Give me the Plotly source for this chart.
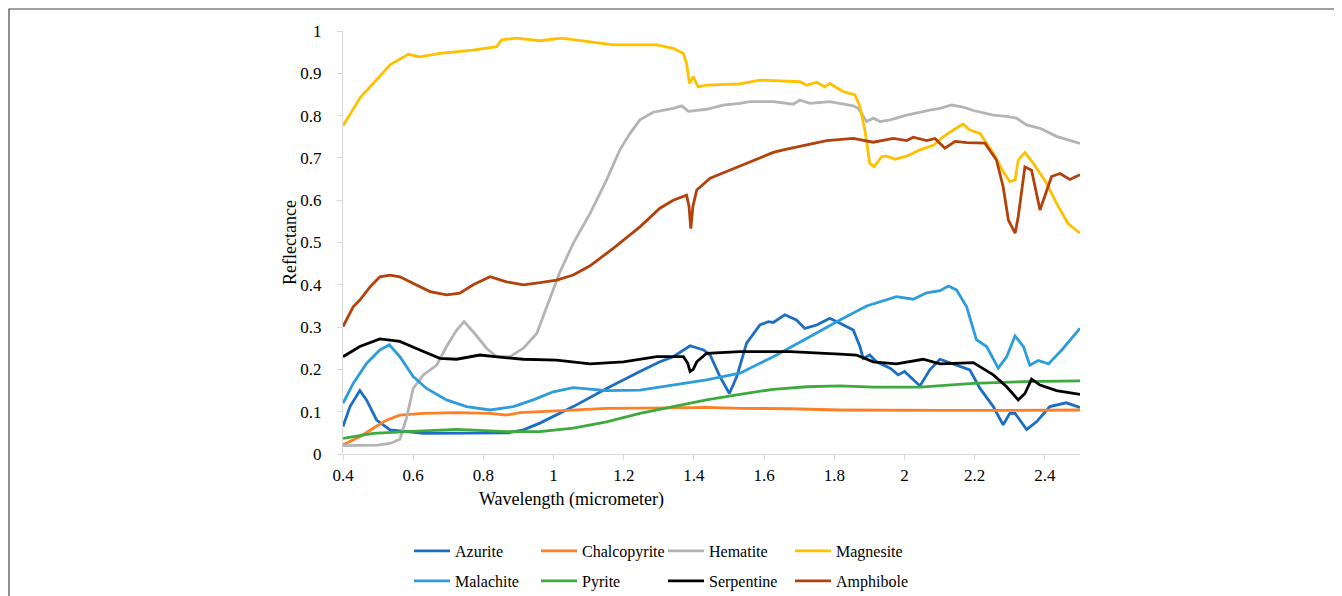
import plotly.graph_objects as go

# ---------------- data ----------------
azurite_x = [0.40,0.42,0.448,0.467,0.496,0.534,0.63,0.77,0.87,0.914,0.961,1.056,1.151,1.246,1.303,1.341,1.389,1.427,1.446,1.474,1.501,1.522,1.55,1.588,1.612,1.626,1.659,1.692,1.716,1.75,1.787,1.816,1.854,1.873,1.882,1.901,1.92,1.959,1.982,2.0,2.015,2.044,2.072,2.101,2.148,2.186,2.215,2.253,2.281,2.3,2.315,2.348,2.376,2.414,2.461,2.5]
azurite_y = [0.065,0.112,0.150,0.128,0.080,0.057,0.049,0.049,0.050,0.057,0.073,0.112,0.155,0.195,0.218,0.230,0.256,0.246,0.234,0.183,0.143,0.183,0.262,0.305,0.313,0.311,0.329,0.317,0.297,0.305,0.321,0.309,0.293,0.254,0.226,0.234,0.218,0.203,0.187,0.195,0.183,0.161,0.199,0.224,0.210,0.199,0.155,0.112,0.069,0.096,0.096,0.058,0.076,0.112,0.121,0.110]

chalco_x = [0.4,0.448,0.486,0.524,0.562,0.629,0.724,0.819,0.866,0.904,1.009,1.151,1.341,1.436,1.531,1.674,1.816,1.95,2.1,2.3,2.5]
chalco_y = [0.022,0.041,0.061,0.080,0.092,0.096,0.098,0.096,0.092,0.098,0.102,0.108,0.109,0.110,0.108,0.107,0.104,0.103,0.103,0.103,0.104]

hematite_x = [0.4,0.45,0.5,0.534,0.562,0.581,0.6,0.629,0.667,0.695,0.724,0.745,0.771,0.809,0.838,0.876,0.914,0.952,0.98,1.018,1.056,1.104,1.151,1.189,1.218,1.246,1.284,1.341,1.365,1.384,1.436,1.483,1.531,1.559,1.626,1.683,1.702,1.73,1.787,1.854,1.868,1.882,1.892,1.911,1.93,1.959,2.006,2.072,2.101,2.134,2.167,2.196,2.253,2.291,2.319,2.348,2.386,2.433,2.48,2.5]
hematite_y = [0.02,0.02,0.021,0.025,0.035,0.085,0.155,0.187,0.210,0.254,0.293,0.313,0.289,0.250,0.230,0.230,0.250,0.285,0.345,0.430,0.498,0.569,0.648,0.719,0.758,0.790,0.808,0.817,0.823,0.810,0.815,0.825,0.829,0.833,0.833,0.827,0.837,0.829,0.833,0.823,0.817,0.798,0.786,0.794,0.786,0.790,0.801,0.813,0.817,0.825,0.820,0.812,0.801,0.798,0.794,0.778,0.770,0.751,0.739,0.734]

magnesite_x = [0.4,0.45,0.486,0.534,0.586,0.619,0.676,0.77,0.838,0.852,0.895,0.961,1.023,1.104,1.17,1.294,1.341,1.37,1.379,1.387,1.398,1.412,1.436,1.531,1.588,1.702,1.721,1.75,1.773,1.787,1.825,1.859,1.873,1.887,1.901,1.913,1.935,1.949,1.973,2.006,2.044,2.082,2.11,2.139,2.167,2.186,2.215,2.253,2.281,2.3,2.315,2.324,2.343,2.367,2.405,2.433,2.466,2.5]
magnesite_y = [0.776,0.844,0.876,0.92,0.945,0.939,0.947,0.955,0.963,0.979,0.983,0.977,0.983,0.975,0.967,0.967,0.959,0.947,0.923,0.876,0.892,0.868,0.872,0.875,0.884,0.880,0.872,0.879,0.868,0.876,0.857,0.849,0.821,0.766,0.687,0.679,0.703,0.704,0.697,0.704,0.719,0.730,0.750,0.766,0.780,0.766,0.758,0.711,0.668,0.644,0.648,0.695,0.713,0.687,0.640,0.593,0.545,0.522]

malachite_x = [0.4,0.429,0.467,0.505,0.532,0.562,0.6,0.638,0.695,0.752,0.819,0.885,0.942,0.999,1.056,1.151,1.246,1.341,1.436,1.531,1.626,1.721,1.816,1.892,1.977,2.025,2.063,2.101,2.125,2.148,2.177,2.205,2.234,2.267,2.291,2.315,2.339,2.357,2.381,2.41,2.448,2.5]
malachite_y = [0.12,0.167,0.214,0.246,0.258,0.230,0.183,0.155,0.128,0.112,0.104,0.112,0.128,0.147,0.157,0.150,0.151,0.163,0.175,0.191,0.230,0.273,0.317,0.350,0.372,0.366,0.381,0.386,0.397,0.388,0.348,0.270,0.254,0.203,0.230,0.279,0.254,0.210,0.221,0.213,0.246,0.297]

pyrite_x = [0.4,0.486,0.581,0.724,0.866,0.961,1.056,1.151,1.246,1.341,1.436,1.531,1.626,1.721,1.816,1.911,2.044,2.196,2.339,2.5]
pyrite_y = [0.037,0.049,0.053,0.058,0.053,0.053,0.061,0.076,0.096,0.112,0.128,0.141,0.153,0.159,0.161,0.158,0.158,0.167,0.171,0.173]

serp_x = [0.4,0.448,0.505,0.562,0.619,0.676,0.724,0.79,0.847,0.914,1.009,1.104,1.199,1.294,1.37,1.382,1.389,1.398,1.408,1.436,1.531,1.674,1.816,1.863,1.911,1.977,2.053,2.101,2.196,2.253,2.291,2.324,2.343,2.362,2.386,2.433,2.5]
serp_y = [0.230,0.254,0.272,0.266,0.246,0.226,0.224,0.234,0.229,0.224,0.222,0.213,0.218,0.230,0.230,0.215,0.195,0.200,0.218,0.238,0.242,0.242,0.236,0.234,0.218,0.213,0.224,0.213,0.216,0.187,0.159,0.128,0.143,0.177,0.163,0.150,0.141]

amph_x = [0.4,0.429,0.448,0.477,0.505,0.534,0.562,0.6,0.648,0.695,0.733,0.771,0.819,0.866,0.914,0.961,1.009,1.056,1.104,1.17,1.246,1.303,1.341,1.379,1.386,1.391,1.397,1.408,1.446,1.493,1.55,1.626,1.655,1.721,1.778,1.854,1.911,1.968,2.006,2.025,2.063,2.087,2.115,2.144,2.177,2.229,2.262,2.281,2.296,2.315,2.324,2.343,2.362,2.386,2.419,2.443,2.471,2.5]
amph_y = [0.301,0.348,0.364,0.395,0.419,0.423,0.419,0.403,0.384,0.376,0.380,0.400,0.419,0.407,0.400,0.405,0.411,0.423,0.445,0.486,0.537,0.581,0.600,0.612,0.585,0.533,0.585,0.624,0.652,0.668,0.687,0.713,0.719,0.730,0.741,0.746,0.737,0.746,0.741,0.749,0.741,0.746,0.723,0.739,0.736,0.735,0.695,0.632,0.553,0.522,0.561,0.679,0.671,0.577,0.656,0.663,0.649,0.660]

series = [
    ("Azurite", azurite_x, azurite_y, "#1B6EC2", "legend"),
    ("Chalcopyrite", chalco_x, chalco_y, "#FF7F27", "legend"),
    ("Hematite", hematite_x, hematite_y, "#B4B4B4", "legend"),
    ("Magnesite", magnesite_x, magnesite_y, "#FFC000", "legend"),
    ("Malachite", malachite_x, malachite_y, "#2C9CDB", "legend2"),
    ("Pyrite", pyrite_x, pyrite_y, "#3DAA3D", "legend2"),
    ("Serpentine", serp_x, serp_y, "#000000", "legend2"),
    ("Amphibole", amph_x, amph_y, "#B3410B", "legend2"),
]

FONT = "Liberation Serif, Times New Roman, serif"

fig = go.Figure()
for name, xs, ys, col, lg in series:
    fig.add_trace(go.Scatter(x=xs, y=ys, mode="lines", name=name,
                             line=dict(color=col, width=2.8), legend=lg))

# the page body adds an 8 px offset; work in screen pixels minus that offset
OFF = 8
W, H = 1342, 596
L, R, T, B = 343 - OFF, 1080 - OFF, 31 - OFF, 454 - OFF

def sx(px):  # screen px -> paper x
    return (px - OFF - L) / (R - L)

def sy(py):  # screen px -> paper y
    return (B - (py - OFF)) / (B - T)

legend_common = dict(orientation="h", font=dict(family=FONT, size=16, color="#000000"),
                     xref="container", yref="container", xanchor="left", yanchor="middle",
                     entrywidth=76, entrywidthmode="pixels", bgcolor="rgba(0,0,0,0)",
                     itemwidth=36, tracegroupgap=0)

fig.update_layout(
    width=W, height=H,
    margin=dict(l=L, r=W - R, t=T, b=H - B),
    paper_bgcolor="white", plot_bgcolor="white",
    font=dict(family=FONT, size=16, color="#000000"),
    xaxis=dict(range=[0.4, 2.5], dtick=0.2, tick0=0.4, showgrid=False, zeroline=False,
               showline=True, linecolor="#D9D9D9", linewidth=1.2,
               ticks="outside", ticklen=5, tickcolor="#D9D9D9",
               tickfont=dict(family=FONT, size=17), ticklabelstandoff=0),
    yaxis=dict(range=[0, 1], dtick=0.1, showgrid=False, zeroline=False,
               showline=True, linecolor="#D9D9D9", linewidth=1.2,
               ticks="outside", ticklen=5, tickcolor="#D9D9D9",
               tickfont=dict(family=FONT, size=17), ticklabelstandoff=12),
    legend=dict(x=(409 - OFF) / W, y=1 - (551 - OFF) / H, **legend_common),
    legend2=dict(x=(409 - OFF) / W, y=1 - (581 - OFF) / H, **legend_common),
    showlegend=True,
)

fig.add_annotation(text="Wavelength (micrometer)", xref="paper", yref="paper",
                   x=sx(571), y=sy(499), showarrow=False,
                   font=dict(family=FONT, size=18), xanchor="center", yanchor="middle")
fig.add_annotation(text="Reflectance", xref="paper", yref="paper",
                   x=sx(290), y=sy(243), showarrow=False, textangle=-90,
                   font=dict(family=FONT, size=18), xanchor="center", yanchor="middle")

# outer frame (only the top and left edges fall inside the view)
fig.add_shape(type="rect", xref="paper", yref="paper",
              x0=sx(9), x1=sx(1400), y0=sy(660), y1=sy(9),
              line=dict(color="#444444", width=1.2), fillcolor="rgba(0,0,0,0)", layer="below")

fig.write_html("out.html")
